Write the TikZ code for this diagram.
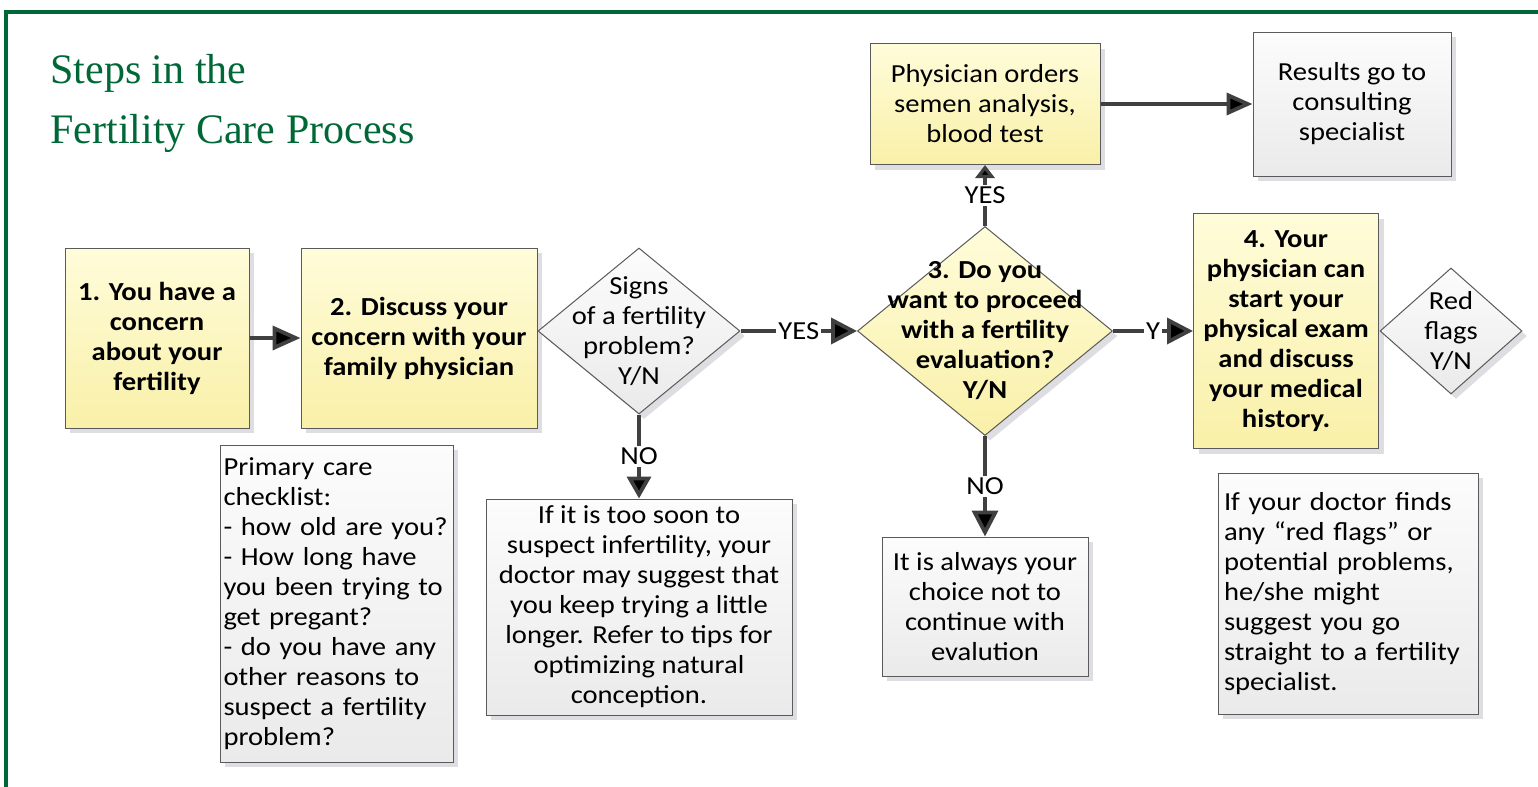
\documentclass[tikz,border=0pt]{standalone}
\usepackage{fontspec}
\setmainfont{Carlito}[FakeStretch=1.1]
\newfontfamily\titlefont{Liberation Serif}
\usetikzlibrary{shapes.geometric,shadows,arrows.meta}
\definecolor{fcgreen}{RGB}{0,104,55}
\definecolor{fcline}{RGB}{90,90,90}
\definecolor{fcarrow}{RGB}{64,64,64}
\definecolor{fcyellowtop}{RGB}{255,252,218}
\definecolor{fcyellowbot}{RGB}{249,240,168}
\definecolor{fcgraytop}{RGB}{252,252,252}
\definecolor{fcgraybot}{RGB}{234,234,234}
\definecolor{fcshadow}{RGB}{222,222,226}
\newcommand{\boxfont}{\fontsize{13}{15}\selectfont}

\begin{document}
\begin{tikzpicture}[x=0.5pt,y=-0.5pt,font=\boxfont,
  base/.style={draw=fcline,line width=0.5pt,inner sep=3pt,
    general shadow={fill=fcshadow,shadow xshift=2.5pt,shadow yshift=-2.5pt}},
  yellowfill/.style={top color=fcyellowtop,bottom color=fcyellowbot},
  grayfill/.style={top color=fcgraytop,bottom color=fcgraybot},
  stepbox/.style={base,yellowfill,align=center},
  notebox/.style={base,grayfill,align=center},
  decision/.style={base,diamond,inner sep=0pt},
  flow/.style={draw=fcarrow,line width=1.9pt,-{Triangle[length=13pt,width=13pt]}},
  lbl/.style={fill=white,inner sep=1pt}]
 \useasboundingbox (0,0) rectangle (1538,787);
 \draw[fcgreen,line width=2.25pt] (6,787) |- (1538,12);
 \node[anchor=west,align=left,inner sep=0pt,text=fcgreen,font=\titlefont\fontsize{21}{30}\selectfont] (title) at (50,103) {Steps in the\\Fertility Care Process};

 \node[stepbox,font=\boxfont\bfseries,minimum width=92pt,minimum height=90pt] (concern) at (157,338) {1. You have a\\concern\\about your\\fertility};
 \node[stepbox,font=\boxfont\bfseries,minimum width=118pt,minimum height=90pt] (discuss) at (419,338) {2. Discuss your\\concern with your\\family physician};
 \node[decision,grayfill,minimum width=101pt,minimum height=83pt,
   label={[align=center]center:Signs\\of a fertility\\problem?\\Y/N}] (signs) at (639,331) {};
 \node[decision,yellowfill,minimum width=127.5pt,minimum height=104.5pt,
   label={[align=center,font=\boxfont\bfseries]center:3. Do you\\want to proceed\\with a fertility\\evaluation?\\Y/N}] (proceed) at (985,331) {};
 \node[stepbox,font=\boxfont\bfseries,minimum width=92.5pt,minimum height=117.5pt] (exam) at (1286,331) {4. Your\\physician can\\start your\\physical exam\\and discuss\\your medical\\history.};
 \node[decision,grayfill,minimum width=71pt,minimum height=63pt,
   label={[align=center]center:Red\\flags\\Y/N}] (redflags) at (1451,331) {};

 \node[stepbox,minimum width=115pt,minimum height=60.5pt] (orders) at (985,104) {Physician orders\\semen analysis,\\blood test};
 \node[notebox,minimum width=99pt,minimum height=72pt] (results) at (1352,104) {Results go to\\consulting\\specialist};

 \node[notebox,align=left,inner xsep=1.75pt,text width=113pt,minimum height=158.5pt] (checklist) at (336.5,603.5) {Primary care\\checklist:\\- how old are you?\\- How long have\\you been trying to\\get pregant?\\- do you have any\\other reasons to\\suspect a fertility\\problem?};
 \node[notebox,minimum width=153pt,minimum height=108pt] (toosoon) at (639,607) {If it is too soon to\\suspect infertility, your\\doctor may suggest that\\you keep trying a little\\longer. Refer to tips for\\optimizing natural\\conception.};
 \node[notebox,minimum width=103pt,minimum height=69.5pt] (choice) at (985,606.5) {It is always your\\choice not to\\continue with\\evalution};
 \node[notebox,align=left,text width=124pt,minimum height=120.5pt] (specialist) at (1348,593.5) {If your doctor finds\\any “red flags” or\\potential problems,\\he/she might\\suggest you go\\straight to a fertility\\specialist.};

 \path[flow]
   (concern) edge[-{Triangle[length=14pt,width=12pt]}] (discuss)
   (signs) edge node[lbl] {YES} (proceed)
           edge[-{Triangle[length=11pt,width=12pt]}] node[lbl] {NO} (toosoon)
   (proceed) edge[-{Triangle[length=6.5pt,width=9.5pt]}] node[lbl] {YES} (orders)
             edge node[lbl] {NO} (choice)
             edge node[lbl] {Y} (exam)
   (orders) edge[-{Triangle[length=13pt,width=11pt]}] (results);
\end{tikzpicture}
\end{document}
